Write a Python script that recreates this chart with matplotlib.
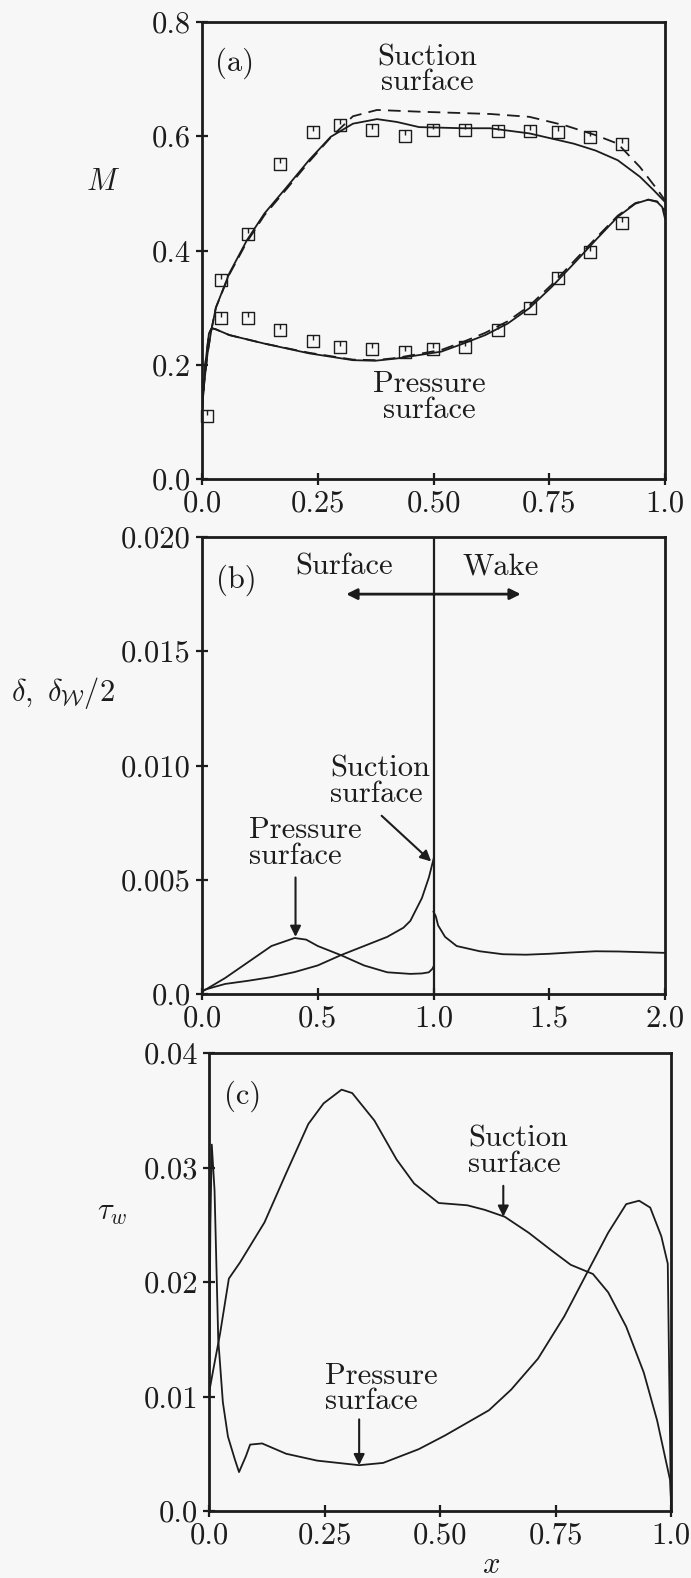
import matplotlib
matplotlib.use("Agg")
import matplotlib.pyplot as plt
from matplotlib.path import Path

plt.rcParams["font.family"] = "cmr10"
plt.rcParams["mathtext.fontset"] = "cm"
plt.rcParams["axes.formatter.use_mathtext"] = True

INK = "#1c1c1c"
BG = "#f7f7f7"
FS = 22

# ---- (a) Mach number ----
A_XTICKS = [0.0, 0.25, 0.5, 0.75, 1.0]
A_XLABELS = ["0.0", "0.25", "0.50", "0.75", "1.0"]
A_YTICKS = [0.0, 0.2, 0.4, 0.6, 0.8]
A_YLABELS = ["0.0", "0.2", "0.4", "0.6", "0.8"]

suc_exp_x = [0.011, 0.04, 0.099, 0.168, 0.24, 0.298, 0.367, 0.438, 0.499, 0.568,
             0.639, 0.709, 0.769, 0.839, 0.908]
suc_exp_m = [0.110, 0.349, 0.429, 0.551, 0.608, 0.620, 0.611, 0.600, 0.611, 0.611,
             0.610, 0.609, 0.608, 0.599, 0.587]
pre_exp_x = [0.04, 0.099, 0.168, 0.24, 0.298, 0.367, 0.438, 0.499, 0.568, 0.639,
             0.709, 0.769, 0.839, 0.908]
pre_exp_m = [0.281, 0.281, 0.261, 0.242, 0.231, 0.227, 0.223, 0.227, 0.231, 0.261,
             0.300, 0.351, 0.398, 0.448]

suc_x = [0, 0.005, 0.012, 0.02, 0.03, 0.059, 0.097, 0.135, 0.183, 0.231, 0.278, 0.326,
         0.378, 0.421, 0.469, 0.564, 0.622, 0.707, 0.755, 0.803, 0.85, 0.898, 0.946,
         0.975, 1.0]
suc_m = [0.12, 0.17, 0.22, 0.26, 0.30, 0.36, 0.418, 0.465, 0.511, 0.558, 0.599, 0.622,
         0.630, 0.625, 0.616, 0.614, 0.614, 0.605, 0.596, 0.587, 0.575, 0.558, 0.529,
         0.506, 0.485]
suc_dash_x = [0, 0.005, 0.012, 0.02, 0.03, 0.059, 0.097, 0.135, 0.183, 0.231, 0.278,
              0.326, 0.378, 0.469, 0.622, 0.707, 0.784, 0.85, 0.898, 0.946, 0.984, 1.0]
suc_dash_m = [0.12, 0.17, 0.22, 0.26, 0.30, 0.358, 0.415, 0.462, 0.508, 0.555, 0.598,
              0.635, 0.646, 0.643, 0.639, 0.634, 0.619, 0.602, 0.587, 0.546, 0.506, 0.488]
pre_x = [0, 0.007, 0.015, 0.021, 0.03, 0.059, 0.135, 0.231, 0.326, 0.374, 0.421, 0.517,
         0.564, 0.612, 0.66, 0.707, 0.755, 0.803, 0.85, 0.898, 0.936, 0.964, 0.983,
         0.994, 1.0]
pre_m = [0.12, 0.20, 0.255, 0.264, 0.262, 0.252, 0.237, 0.22, 0.208, 0.207, 0.211, 0.223,
         0.237, 0.252, 0.272, 0.299, 0.336, 0.377, 0.418, 0.459, 0.482, 0.489, 0.485,
         0.476, 0.456]
pre_dash_x = [0, 0.007, 0.015, 0.021, 0.03, 0.059, 0.135, 0.231, 0.326, 0.374, 0.421,
              0.517, 0.564, 0.612, 0.66, 0.707, 0.755, 0.803, 0.85, 0.898, 0.936, 0.964,
              0.983, 1.0]
pre_dash_m = [0.12, 0.20, 0.255, 0.264, 0.262, 0.252, 0.237, 0.221, 0.209, 0.208, 0.212,
              0.226, 0.240, 0.256, 0.276, 0.303, 0.340, 0.381, 0.421, 0.461, 0.483, 0.489,
              0.486, 0.47]

# ---- (b) boundary-layer thickness ----
B_XTICKS = [0.0, 0.5, 1.0, 1.5, 2.0]
B_XLABELS = ["0.0", "0.5", "1.0", "1.5", "2.0"]
B_YTICKS = [0.0, 0.005, 0.010, 0.015, 0.020]
B_YLABELS = ["0.0", "0.005", "0.010", "0.015", "0.020"]

bs_x = [0, 0.05, 0.1, 0.2, 0.3, 0.4, 0.5, 0.6, 0.7, 0.8, 0.87, 0.9, 0.95, 0.98, 1.0]
bs_d = [0.00015, 0.0003, 0.00044, 0.00058, 0.00074, 0.00096, 0.00125, 0.0017, 0.0021,
        0.0025, 0.0029, 0.0032, 0.0042, 0.0051, 0.0059]
bp_x = [0, 0.1, 0.2, 0.3, 0.4, 0.45, 0.5, 0.6, 0.7, 0.8, 0.9, 0.95, 0.98, 0.995, 1.0]
bp_d = [0.0001, 0.0007, 0.0014, 0.0021, 0.00245, 0.00238, 0.0021, 0.0017, 0.00125,
        0.00095, 0.00088, 0.0009, 0.00095, 0.0011, 0.0012]
wake_x = [1.0, 1.01, 1.02, 1.05, 1.1, 1.2, 1.3, 1.4, 1.5, 1.6, 1.7, 1.8, 1.9, 2.0]
wake_d = [0.0036, 0.0034, 0.0030, 0.0025, 0.0021, 0.00187, 0.00174, 0.00172, 0.00176,
          0.00182, 0.00187, 0.00186, 0.00183, 0.0018]

# ---- (c) wall shear stress ----
C_XTICKS = [0.0, 0.25, 0.5, 0.75, 1.0]
C_XLABELS = ["0.0", "0.25", "0.50", "0.75", "1.0"]
C_YTICKS = [0.0, 0.01, 0.02, 0.03, 0.04]
C_YLABELS = ["0.0", "0.01", "0.02", "0.03", "0.04"]

cs_x = [0, 0.01, 0.024, 0.043, 0.067, 0.12, 0.167, 0.215, 0.248, 0.287, 0.31, 0.358,
        0.406, 0.444, 0.497, 0.559, 0.597, 0.64, 0.692, 0.74, 0.783, 0.831, 0.864,
        0.903, 0.941, 0.97, 0.998, 1.0]
cs_t = [0.0103, 0.0125, 0.0155, 0.0203, 0.0217, 0.0252, 0.0295, 0.0338, 0.0356, 0.0368,
        0.0365, 0.0341, 0.0307, 0.0286, 0.0269, 0.0267, 0.0263, 0.0257, 0.0243, 0.0228,
        0.0215, 0.0207, 0.0191, 0.0161, 0.0121, 0.0079, 0.0027, 0.001]
cp_x = [0, 0.003, 0.006, 0.012, 0.02, 0.03, 0.041, 0.056, 0.065, 0.08, 0.089, 0.115,
        0.167, 0.234, 0.325, 0.377, 0.454, 0.511, 0.606, 0.654, 0.712, 0.769, 0.817,
        0.864, 0.903, 0.931, 0.955, 0.979, 0.993, 1.0]
cp_t = [0.0095, 0.025, 0.032, 0.028, 0.015, 0.0095, 0.0065, 0.0045, 0.0034, 0.0048,
        0.0058, 0.0059, 0.005, 0.0044, 0.0040, 0.0042, 0.0054, 0.0066, 0.0088, 0.0106,
        0.0133, 0.017, 0.0207, 0.0243, 0.0268, 0.0271, 0.0265, 0.024, 0.0216, 0.0]

# open square with a short tick inside, as in the printed figure
sq = Path([(-1, -1), (1, -1), (1, 1), (-1, 1), (-1, -1), (0, 1), (0, 0.15)],
          [Path.MOVETO, Path.LINETO, Path.LINETO, Path.LINETO, Path.CLOSEPOLY,
           Path.MOVETO, Path.LINETO])

W, H = 691, 1578
fig = plt.figure(figsize=(W / 100, H / 100), dpi=100, facecolor=BG)


def box(l, r, t, b):
    return [l / W, 1 - b / H, (r - l) / W, (b - t) / H]


def style(ax, xt, xl, yt, yl, xlim, ylim):
    ax.set_facecolor(BG)
    ax.set_xlim(*xlim)
    ax.set_ylim(*ylim)
    ax.set_xticks(xt, xl)
    ax.set_yticks(yt, yl)
    for sp in ax.spines.values():
        sp.set_linewidth(2.0)
        sp.set_color(INK)
    ax.tick_params(direction="inout", length=8, width=1.6, labelsize=FS,
                   colors=INK, pad=4)


arrow = dict(arrowstyle="-|>", color=INK, lw=1.5, mutation_scale=16,
             shrinkA=0, shrinkB=0)
lw = 1.3

# (a)
ax1 = fig.add_axes(box(202, 665, 22, 479))
style(ax1, A_XTICKS, A_XLABELS, A_YTICKS, A_YLABELS, (0, 1), (0, 0.8))
ax1.plot(suc_x, suc_m, color=INK, lw=lw)
ax1.plot(suc_dash_x, suc_dash_m, color=INK, lw=lw, ls=(0, (7, 4)))
ax1.plot(pre_x, pre_m, color=INK, lw=lw)
ax1.plot(pre_dash_x, pre_dash_m, color=INK, lw=lw, ls=(0, (7, 4)))
ax1.plot(suc_exp_x, suc_exp_m, ls="none", marker=sq, ms=9, mfc="none",
         mec=INK, mew=1.0, clip_on=False)
ax1.plot(pre_exp_x, pre_exp_m, ls="none", marker=sq, ms=9, mfc="none",
         mec=INK, mew=1.0)
ax1.text(0.071, 0.728, "(a)", fontsize=FS, ha="center", va="center", color=INK)
ax1.text(0.486, 0.716, "Suction\nsurface", fontsize=FS, ha="center", va="center",
         linespacing=0.9, color=INK)
ax1.text(0.49, 0.143, "Pressure\nsurface", fontsize=FS, ha="center", va="center",
         linespacing=0.9, color=INK)
ax1.set_ylabel(r"$M$", fontsize=FS, rotation=0, color=INK)
ax1.yaxis.set_label_coords(-0.213, 0.62)

# (b)
ax2 = fig.add_axes(box(202, 665, 537, 994))
style(ax2, B_XTICKS, B_XLABELS, B_YTICKS, B_YLABELS, (0, 2), (0, 0.020))
ax2.axvline(1.0, color=INK, lw=1.6)
ax2.plot(bs_x, bs_d, color=INK, lw=lw)
ax2.plot(bp_x, bp_d, color=INK, lw=lw)
ax2.plot(wake_x, wake_d, color=INK, lw=lw)
ax2.annotate("", xy=(0.623, 0.0175), xytext=(1.0, 0.0175),
             arrowprops=dict(arrow, lw=2.0))
ax2.annotate("", xy=(1.377, 0.0175), xytext=(1.0, 0.0175),
             arrowprops=dict(arrow, lw=2.0))
ax2.text(0.147, 0.0181, "(b)", fontsize=FS, ha="center", va="center", color=INK)
ax2.text(0.614, 0.01868, "Surface", fontsize=FS, ha="center", va="center", color=INK)
ax2.text(1.29, 0.01868, "Wake", fontsize=FS, ha="center", va="center", color=INK)
ax2.text(0.553, 0.0093, "Suction\nsurface", fontsize=FS, ha="left", va="center",
         linespacing=0.9, color=INK)
ax2.annotate("", xy=(0.99, 0.0058), xytext=(0.776, 0.0078), arrowprops=arrow)
ax2.text(0.204, 0.0066, "Pressure\nsurface", fontsize=FS, ha="left", va="center",
         linespacing=0.9, color=INK)
ax2.annotate("", xy=(0.404, 0.0025), xytext=(0.404, 0.0051), arrowprops=arrow)
ax2.set_ylabel(r"$\delta,\ \delta_{\mathcal{W}}/2$", fontsize=FS, rotation=0, color=INK)
ax2.yaxis.set_label_coords(-0.30, 0.62)

# (c)
ax3 = fig.add_axes(box(209, 671, 1053, 1511))
style(ax3, C_XTICKS, C_XLABELS, C_YTICKS, C_YLABELS, (0, 1), (0, 0.04))
ax3.plot(cs_x, cs_t, color=INK, lw=lw)
ax3.plot(cp_x, cp_t, color=INK, lw=lw)
ax3.text(0.072, 0.0362, "(c)", fontsize=FS, ha="center", va="center", color=INK)
ax3.text(0.561, 0.0314, "Suction\nsurface", fontsize=FS, ha="left", va="center",
         linespacing=0.9, color=INK)
ax3.annotate("", xy=(0.637, 0.0257), xytext=(0.637, 0.0284), arrowprops=arrow)
ax3.text(0.25, 0.0107, "Pressure\nsurface", fontsize=FS, ha="left", va="center",
         linespacing=0.9, color=INK)
ax3.annotate("", xy=(0.325, 0.0040), xytext=(0.325, 0.0080), arrowprops=arrow)
ax3.set_ylabel(r"$\tau_w$", fontsize=FS, rotation=0, color=INK)
ax3.yaxis.set_label_coords(-0.21, 0.62)
ax3.set_xlabel(r"$x$", fontsize=FS, color=INK, va="center")
ax3.xaxis.set_label_coords(0.61, -0.118)

fig.savefig("out.png", dpi=100, facecolor=BG)
